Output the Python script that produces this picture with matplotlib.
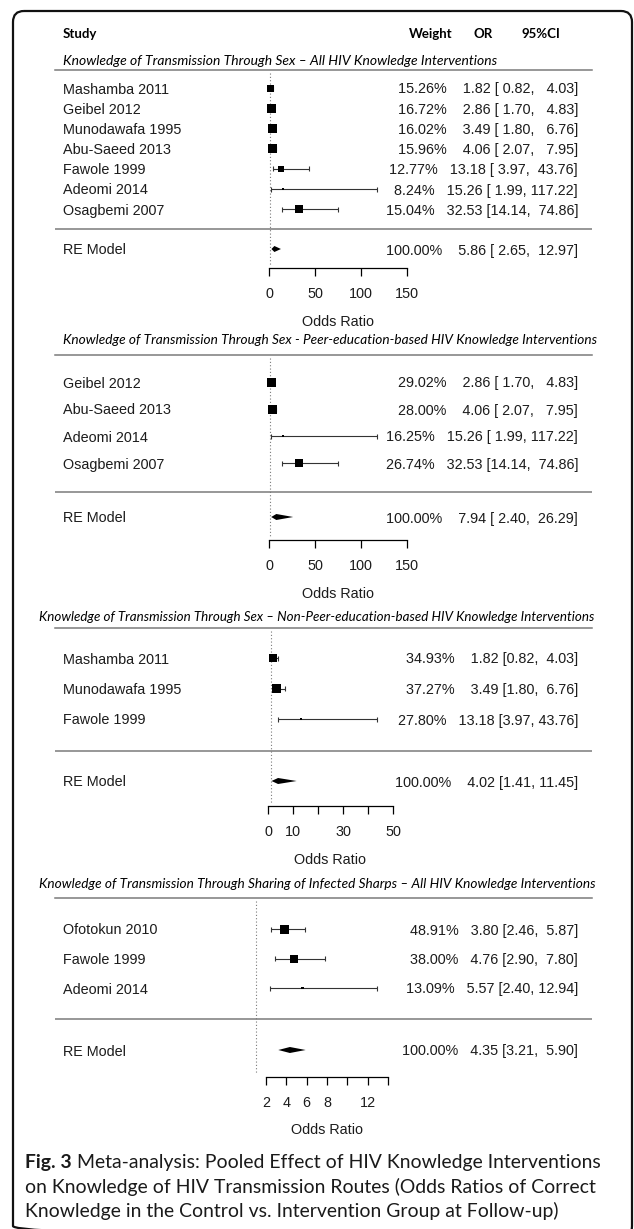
import matplotlib
matplotlib.use("Agg")
import numpy as np
import matplotlib.pyplot as plt
from matplotlib.patches import FancyBboxPatch, Polygon

W, H, DPI = 634, 1229, 100

# ---- data ----
s1_study = ["Mashamba 2011", "Geibel 2012", "Munodawafa 1995", "Abu-Saeed 2013",
            "Fawole 1999", "Adeomi 2014", "Osagbemi 2007"]
s1_weight = [15.26, 16.72, 16.02, 15.96, 12.77, 8.24, 15.04]
s1_or = [1.82, 2.86, 3.49, 4.06, 13.18, 15.26, 32.53]
s1_lo = [0.82, 1.70, 1.80, 2.07, 3.97, 1.99, 14.14]
s1_hi = [4.03, 4.83, 6.76, 7.95, 43.76, 117.22, 74.86]
s1_re = [5.86, 2.65, 12.97]

s2_study = ["Geibel 2012", "Abu-Saeed 2013", "Adeomi 2014", "Osagbemi 2007"]
s2_weight = [29.02, 28.00, 16.25, 26.74]
s2_or = [2.86, 4.06, 15.26, 32.53]
s2_lo = [1.70, 2.07, 1.99, 14.14]
s2_hi = [4.83, 7.95, 117.22, 74.86]
s2_re = [7.94, 2.40, 26.29]

s3_study = ["Mashamba 2011", "Munodawafa 1995", "Fawole 1999"]
s3_weight = [34.93, 37.27, 27.80]
s3_or = [1.82, 3.49, 13.18]
s3_lo = [0.82, 1.80, 3.97]
s3_hi = [4.03, 6.76, 43.76]
s3_re = [4.02, 1.41, 11.45]

s4_study = ["Ofotokun 2010", "Fawole 1999", "Adeomi 2014"]
s4_weight = [48.91, 38.00, 13.09]
s4_or = [3.80, 4.76, 5.57]
s4_lo = [2.46, 2.90, 2.40]
s4_hi = [5.87, 7.80, 12.94]
s4_re = [4.35, 3.21, 5.90]

titles = [
    "Knowledge of Transmission Through Sex \u2013 All HIV Knowledge Interventions",
    "Knowledge of Transmission Through Sex - Peer-education-based HIV Knowledge Interventions",
    "Knowledge of Transmission Through Sex \u2013 Non-Peer-education-based HIV Knowledge Interventions",
    "Knowledge of Transmission Through Sharing of Infected Sharps \u2013 All HIV Knowledge Interventions",
]
ticks = [[0, 50, 100, 150], [0, 50, 100, 150], [0, 10, 20, 30, 40, 50], [2, 4, 6, 8, 10, 12, 14]]
tick_labels = [["0", "50", "100", "150"], ["0", "50", "100", "150"],
               ["0", "10", "", "30", "", "50"], ["2", "4", "6", "8", "", "12", ""]]
caption = ["Meta-analysis: Pooled Effect of HIV Knowledge Interventions",
           "on Knowledge of HIV Transmission Routes (Odds Ratios of Correct",
           "Knowledge in the Control vs. Intervention Group at Follow-up)"]

# ---- layout (pixels from top-left) ----
AX_L, AX_R = 55, 592
layout = [
    dict(tx=63, tr=496, ty=60, top=70, r0=88, step=20.2, mid=229, re=249, ay=268, px=(269, 407),
         sq=[7, 9, 9, 9, 6, 2.5, 8]),
    dict(tx=63, tr=594, ty=339, top=355, r0=382, step=27, mid=492, re=517, ay=540, px=(269, 407),
         sq=[9, 9, 2.5, 8]),
    dict(tx=39, tr=594, ty=616, top=628, r0=658, step=30.5, mid=751, re=781, ay=806, px=(268, 393),
         sq=[8, 9, 2.5]),
    dict(tx=39, tr=593, ty=883, top=898, r0=929, step=29.5, mid=1019, re=1050, ay=1077, px=(266, 388),
         sq=[9, 8, 2.5]),
]
sections = [
    (s1_study, s1_weight, s1_or, s1_lo, s1_hi, s1_re),
    (s2_study, s2_weight, s2_or, s2_lo, s2_hi, s2_re),
    (s3_study, s3_weight, s3_or, s3_lo, s3_hi, s3_re),
    (s4_study, s4_weight, s4_or, s4_lo, s4_hi, s4_re),
]

PT = 72 / DPI  # points per pixel
BODY = dict(family="Liberation Sans", fontsize=10.4, color="#1c1c1c")
GRAY = "#7a7a7a"


def annot(weights, ors, los, his):
    # metafor-style columns: each padded to its widest entry, then pasted
    cols = [[f"{v:.2f}" for v in c] for c in (weights, ors, los, his)]
    wid = [max(len(s) for s in c) for c in cols]
    cols = [[s.rjust(w) for s in c] for c, w in zip(cols, wid)]
    return [f"{a}%   {b} [{c}, {d}]" for a, b, c, d in zip(*cols)]


fig = plt.figure(figsize=(W / DPI, H / DPI), dpi=DPI)
fig.patch.set_facecolor("white")
ov = fig.add_axes([0, 0, 1, 1])
ov.set_xlim(0, W)
ov.set_ylim(H, 0)
ov.axis("off")
renderer = fig.canvas.get_renderer()


def fit(t, width):
    bb = t.get_window_extent(renderer)
    t.set_fontsize(t.get_fontsize() * width / bb.width)
    return t


# frame
ov.add_patch(FancyBboxPatch((13, 11), 619, 1226, boxstyle="round,pad=0,rounding_size=11",
                            fill=False, lw=1.6, ec="#111111", clip_on=False))

# header
hdr = dict(family="Lato", weight="bold", fontsize=9.5, va="center_baseline")
ov.text(63, 33, "Study", **hdr)
ov.text(453, 33, "Weight", ha="right", **hdr)
ov.text(474, 33, "OR", **hdr)
ov.text(522, 33, "95%CI", **hdr)

for (study, wt, est, lo, hi, re), L, title, tk, tl in zip(sections, layout, titles, ticks, tick_labels):
    t = ov.text(L["tx"], L["ty"], title, family="Lato", style="italic", fontsize=9,
                va="center_baseline")
    fit(t, L["tr"] - L["tx"])

    t0, t1 = tk[0], tk[-1]
    k = (L["px"][1] - L["px"][0]) / (t1 - t0)
    ax = fig.add_axes([AX_L / W, 1 - L["ay"] / H, (AX_R - AX_L) / W, (L["ay"] - L["top"]) / H])
    ax.set_xlim(t0 - (L["px"][0] - AX_L) / k, t1 + (AX_R - L["px"][1]) / k)
    ax.set_ylim(L["ay"], L["top"])
    ax.patch.set_visible(False)
    for s in ("top", "left", "right"):
        ax.spines[s].set_visible(False)
    ax.spines["bottom"].set_bounds(t0, t1)
    ax.spines["bottom"].set_linewidth(0.9)
    ax.set_yticks([])
    ax.set_xticks(tk)
    ax.set_xticklabels(tl, **BODY)
    ax.tick_params(axis="x", direction="out", length=8 * PT, width=0.9, pad=8)

    rows = L["r0"] + L["step"] * np.arange(len(study))
    ax.axhline(L["top"], color=GRAY, lw=1.1, clip_on=False)
    ax.axhline(L["mid"], color=GRAY, lw=1.1)
    ax.vlines(1, L["top"] + 3, L["ay"] - 3, colors=GRAY, lw=0.8, linestyles=(0, (1, 2)))

    ax.hlines(rows, lo, hi, colors="#333333", lw=0.8)
    ax.vlines(lo, rows - 2.5, rows + 2.5, colors="#333333", lw=0.8)
    ax.vlines(hi, rows - 2.5, rows + 2.5, colors="#333333", lw=0.8)
    ax.scatter(est, rows, s=(np.array(L["sq"]) * PT) ** 2, marker="s", color="black",
               lw=0, zorder=3)
    ax.add_patch(Polygon([(re[1], L["re"]), (re[0], L["re"] - 3), (re[2], L["re"]),
                          (re[0], L["re"] + 3)], closed=True, color="black", lw=0))

    ax.annotate("Odds Ratio", xy=((t0 + t1) / 2, 0), xycoords=("data", "axes fraction"),
                xytext=(0, -52 * PT), textcoords="offset points", ha="center",
                va="center_baseline", **BODY)

    texts = annot(wt + [100.0], est + [re[0]], lo + [re[1]], hi + [re[2]])
    for name, y, a in zip(study + ["RE Model"], list(rows) + [L["re"]], texts):
        ov.text(63, y, name, va="center_baseline", **BODY)
        ov.text(578, y, a, ha="right", va="center_baseline", **BODY)

# caption
cap = dict(family="Lato", fontsize=13, va="center_baseline", color="#1a1a1a")
c2 = ov.text(25, 1185, caption[1], **cap)
fit(c2, 570)
cap["fontsize"] = c2.get_fontsize()
fb = ov.text(25, 1161, "Fig. 3", weight="bold", **cap)
wb = fb.get_window_extent(renderer).width
ov.text(25 + wb, 1161, " " + caption[0], **cap)
ov.text(25, 1209, caption[2], **cap)

fig.savefig("out.png", dpi=DPI)
